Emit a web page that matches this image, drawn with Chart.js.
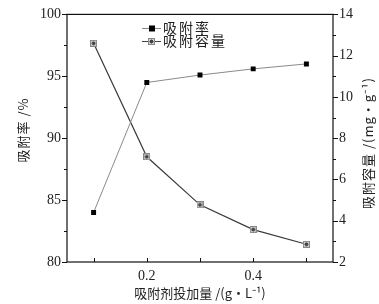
<!DOCTYPE html>
<html>
<head>
<meta charset="utf-8">
<script src="https://cdn.jsdelivr.net/npm/chart.js@4"></script>
<style>
  html, body { margin: 0; padding: 0; background: #fff; }
  #box { width: 379px; height: 304px; }
</style>
</head>
<body>
<div id="box"><canvas id="chart" width="379" height="304"></canvas></div>
<script>
/**************** DATA ****************/
const dosage = [0.1, 0.2, 0.3, 0.4, 0.5];
const removalRate = [84.0, 94.5, 95.1, 95.6, 96.0];
const capacity = [12.6, 7.1, 4.77, 3.57, 2.86];
const xLabels = [0.2, 0.4];
const rateLabel = "吸附率";
const capLabel = "吸附容量";

const SERIF = "'Liberation Serif', 'DejaVu Serif', serif";
const CJK = "'Noto Sans CJK SC', sans-serif";

/**************** MARKER ****************/
function starSquare() {
    const c = document.createElement("canvas");
    c.width = 7; c.height = 7;
    const g = c.getContext("2d");
    g.fillStyle = "#d0d0d0";
    g.fillRect(0, 0, 7, 7);
    g.strokeStyle = "#888";
    g.lineWidth = 1;
    g.strokeRect(0.5, 0.5, 6, 6);
    g.strokeStyle = "#444";
    g.beginPath();
    g.moveTo(3.5, 1.5); g.lineTo(3.5, 5.5);
    g.moveTo(1.5, 3.5); g.lineTo(5.5, 3.5);
    g.moveTo(2, 2); g.lineTo(5, 5);
    g.moveTo(5, 2); g.lineTo(2, 5);
    g.stroke();
    return c;
}
const capMarker = starSquare();

/**************** DECORATION PLUGIN ****************/
const decor = {
    id: "decor",
    afterDraw(chart) {
        const ctx = chart.ctx;
        const a = chart.chartArea;
        const x = chart.scales.x, y = chart.scales.y, y2 = chart.scales.y2;
        ctx.save();
        ctx.strokeStyle = "#111";
        ctx.lineWidth = 1.2;
        ctx.strokeRect(a.left, a.top, a.right - a.left, a.bottom - a.top);

        ctx.lineWidth = 1;
        ctx.beginPath();
        // bottom ticks, inward
        dosage.forEach(v => {
            const px = Math.round(x.getPixelForValue(v)) + 0.5;
            ctx.moveTo(px, a.bottom); ctx.lineTo(px, a.bottom - 4);
        });
        // left ticks, outward
        y.ticks.forEach(t => {
            const py = Math.round(y.getPixelForValue(t.value)) + 0.5;
            const len = t.value % 5 === 0 ? 5 : 3;
            ctx.moveTo(a.left, py); ctx.lineTo(a.left - len, py);
        });
        // right ticks, outward
        y2.ticks.forEach(t => {
            const py = Math.round(y2.getPixelForValue(t.value)) + 0.5;
            const len = t.value % 2 === 0 ? 5 : 3;
            ctx.moveTo(a.right, py); ctx.lineTo(a.right + len, py);
        });
        ctx.stroke();

        // axis titles
        ctx.fillStyle = "#222";
        ctx.textAlign = "center";
        ctx.textBaseline = "middle";
        ctx.font = "13px " + CJK;
        ctx.fillText("吸附剂投加量 /(g·L⁻¹)", 200, 293);

        ctx.save();
        ctx.translate(23, 130);
        ctx.rotate(-Math.PI / 2);
        ctx.letterSpacing = "1px";
        ctx.fillText("吸附率 /%", 0, 0);
        ctx.restore();

        ctx.save();
        ctx.translate(368, 143);
        ctx.rotate(-Math.PI / 2);
        ctx.letterSpacing = "1px";
        ctx.fillText("吸附容量 /(mg·g⁻¹)", 0, 0);
        ctx.restore();

        // legend
        const lx = 142, rows = [[28, rateLabel, "#888", "square"], [41, capLabel, "#444", "star"]];
        rows.forEach(r => {
            ctx.strokeStyle = r[2];
            ctx.lineWidth = 1;
            ctx.beginPath();
            ctx.moveTo(lx, r[0] + 0.5); ctx.lineTo(lx + 19, r[0] + 0.5);
            ctx.stroke();
            if (r[3] === "square") {
                ctx.fillStyle = "#000";
                ctx.fillRect(lx + 7, r[0] - 2.5, 6, 6);
            } else {
                ctx.drawImage(capMarker, lx + 6, r[0] - 3);
            }
            ctx.fillStyle = "#222";
            ctx.textAlign = "left";
            ctx.font = "14px " + CJK;
            ctx.letterSpacing = "2px";
            ctx.fillText(r[1], lx + 21, r[0]);
            ctx.letterSpacing = "0px";
        });
        ctx.restore();
    }
};

/**************** CHART ****************/
new Chart(document.getElementById("chart"), {
    type: "line",
    data: {
        datasets: [
            {
                label: rateLabel,
                data: dosage.map((d, i) => ({ x: d, y: removalRate[i] })),
                yAxisID: "y",
                borderColor: "#8a8a8a",
                borderWidth: 1,
                pointStyle: "rect",
                pointRadius: 3.5,
                pointBackgroundColor: "#000",
                pointBorderColor: "#000",
                pointBorderWidth: 0
            },
            {
                label: capLabel,
                data: dosage.map((d, i) => ({ x: d, y: capacity[i] })),
                yAxisID: "y2",
                borderColor: "#3a3a3a",
                borderWidth: 1.2,
                pointStyle: capMarker
            }
        ]
    },
    options: {
        responsive: false,
        animation: false,
        maintainAspectRatio: false,
        layout: { padding: { top: 12, left: 0, right: 0, bottom: 0 } },
        plugins: { legend: { display: false }, tooltip: { enabled: false } },
        scales: {
            x: {
                type: "linear",
                min: 0.05, max: 0.55,
                afterBuildTicks: s => { s.ticks = xLabels.map(v => ({ value: v })); },
                afterFit: s => { s.height = 42; },
                grid: { display: false, drawTicks: false },
                border: { display: false },
                ticks: {
                    padding: 6,
                    color: "#222",
                    font: { family: SERIF, size: 14 },
                    callback: v => v.toFixed(1)
                }
            },
            y: {
                position: "left",
                min: 80, max: 100,
                afterFit: s => { s.width = 67; },
                grid: { display: false, drawTicks: false },
                border: { display: false },
                ticks: {
                    stepSize: 2.5,
                    padding: 6,
                    color: "#222",
                    font: { family: SERIF, size: 14 },
                    callback: v => (v % 5 === 0 ? v : "")
                }
            },
            y2: {
                position: "right",
                min: 2, max: 14,
                afterFit: s => { s.width = 46; },
                grid: { display: false, drawTicks: false },
                border: { display: false },
                ticks: {
                    stepSize: 1,
                    padding: 6,
                    color: "#222",
                    font: { family: SERIF, size: 14 },
                    callback: v => (v % 2 === 0 ? v : "")
                }
            }
        }
    },
    plugins: [decor]
});
</script>
</body>
</html>
